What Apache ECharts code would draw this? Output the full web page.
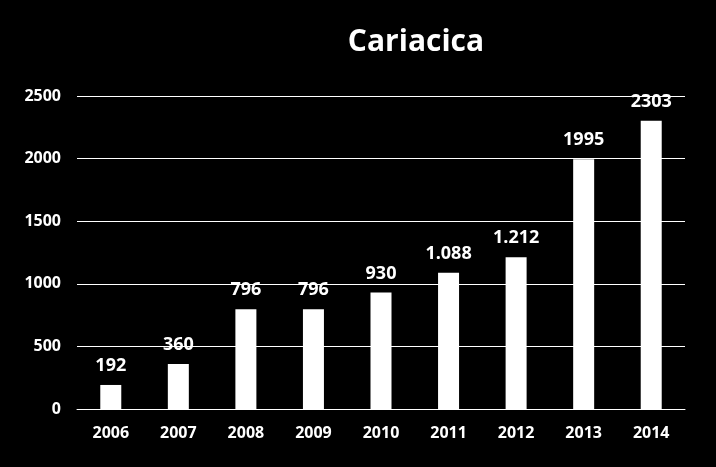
<!DOCTYPE html>
<html><head><meta charset="utf-8">
<script src="https://cdn.jsdelivr.net/npm/echarts@6/dist/echarts.min.js"></script>
<style>html,body{margin:0;padding:0;background:#000;}#c{width:716px;height:467px;}</style>
</head><body><div id="c"></div>
<script>
const categories = ['2006','2007','2008','2009','2010','2011','2012','2013','2014'];
const values = [192, 360, 796, 796, 930, 1088, 1212, 1995, 2303];
const valueLabels = ['192','360','796','796','930','1.088','1.212','1995','2303'];
const yTicks = [0, 500, 1000, 1500, 2000, 2500];

const font = '"Open Sans", "DejaVu Sans", sans-serif';
const chart = echarts.init(document.getElementById('c'));
chart.setOption({
  backgroundColor: '#000',
  animation: false,
  title: {
    text: 'Cariacica', left: 411, top: 22, textAlign: 'center',
    textStyle: { color: '#fff', fontSize: 30, fontWeight: 'bold', fontFamily: font }
  },
  grid: { left: 77, right: 31, top: 96, bottom: 58 },
  xAxis: {
    type: 'category', data: categories,
    axisLine: { show: true, lineStyle: { color: '#fff', width: 1 } },
    axisTick: { show: false },
    axisLabel: { color: '#fff', fontSize: 16, fontWeight: 'bold', fontFamily: font, margin: 16 }
  },
  yAxis: {
    type: 'value', min: 0, max: 2500, interval: 500,
    axisLine: { show: false }, axisTick: { show: false },
    splitLine: { show: true, lineStyle: { color: '#fff', width: 1 } },
    axisLabel: { color: '#fff', fontSize: 16, fontWeight: 'bold', fontFamily: font, margin: 16,
      formatter: v => yTicks.includes(v) ? String(v) : '' }
  },
  series: [{
    type: 'bar', data: values, barWidth: 21,
    itemStyle: { color: '#fff' },
    label: {
      show: true, position: 'top', distance: 10,
      color: '#fff', fontSize: 18, fontWeight: 'bold', fontFamily: font,
      formatter: p => valueLabels[p.dataIndex]
    }
  }]
});
</script></body></html>
